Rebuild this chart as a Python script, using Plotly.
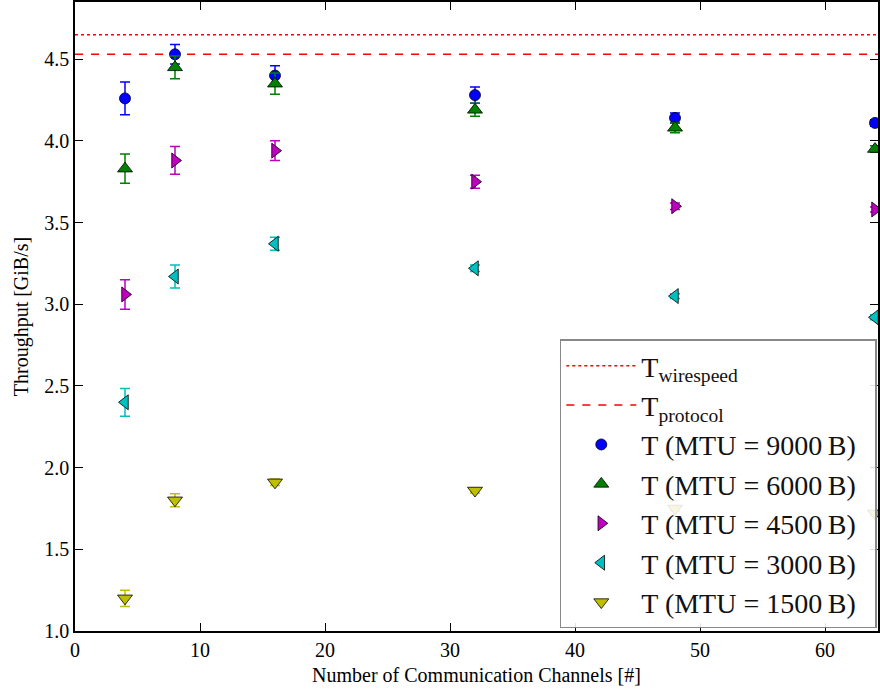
import plotly.graph_objects as go

# Measured throughput vs. number of communication channels, per MTU size
channels = [4, 8, 16, 32, 48, 64]

mtu_labels = ["9000", "6000", "4500", "3000", "1500"]
tp_9000 = [4.26, 4.53, 4.40, 4.28, 4.14, 4.11]
err_9000 = [0.10, 0.06, 0.06, 0.05, 0.03, 0.02]
tp_6000 = [3.83, 4.45, 4.35, 4.19, 4.08, 3.95]
err_6000 = [0.09, 0.07, 0.065, 0.04, 0.03, 0.02]
tp_4500 = [3.06, 3.88, 3.94, 3.75, 3.60, 3.58]
err_4500 = [0.09, 0.085, 0.06, 0.04, 0.02, 0.015]
tp_3000 = [2.40, 3.17, 3.37, 3.22, 3.05, 2.92]
err_3000 = [0.085, 0.07, 0.04, 0.02, 0.015, 0.015]
tp_1500 = [1.20, 1.80, 1.91, 1.86, 1.75, 1.72]
err_1500 = [0.05, 0.04, 0.02, 0.015, 0.015, 0.015]

# Theoretical limits
t_wirespeed = 4.65
t_protocol = 4.53

x_range = [0, 64.24]
y_range = [1.0, 4.85]

series = [
    (tp_9000, err_9000, "#0000ff", "circle", 11),
    (tp_6000, err_6000, "#008000", "triangle-up", 13),
    (tp_4500, err_4500, "#bf00bf", "triangle-right", 13),
    (tp_3000, err_3000, "#00bfbf", "triangle-left", 13),
    (tp_1500, err_1500, "#bfbf00", "triangle-down", 13),
]

serif = "Liberation Serif, Times New Roman, serif"
pad = "\u00a0\u00a0"  # right padding inside the legend box

fig = go.Figure()

fig.add_trace(go.Scatter(
    x=x_range, y=[t_wirespeed, t_wirespeed], mode="lines",
    line=dict(color="#ff0000", width=1.5, dash="dot"),
    name="T<sub>wirespeed</sub>", hoverinfo="skip",
))
fig.add_trace(go.Scatter(
    x=x_range, y=[t_protocol, t_protocol], mode="lines",
    line=dict(color="#ff0000", width=1.5, dash="8px,8px"),
    name="T<sub>protocol</sub>", hoverinfo="skip",
))

for label, (vals, errs, color, symbol, size) in zip(mtu_labels, series):
    fig.add_trace(go.Scatter(
        x=channels, y=vals, mode="markers",
        name=f"T (MTU = {label}\u2009B){pad}",
        marker=dict(symbol=symbol, size=size, color=color,
                    line=dict(color="black", width=0.8)),
        error_y=dict(type="data", array=errs, visible=True,
                     color=color, thickness=1.5, width=5),
        cliponaxis=True,
    ))

fig.update_layout(
    width=880, height=695,
    margin=dict(l=75, r=0, t=2, b=64),
    paper_bgcolor="white", plot_bgcolor="white",
    font=dict(family=serif, size=20, color="black"),
    showlegend=True,
    legend=dict(
        x=0.9985, xanchor="right", y=0.004, yanchor="bottom",
        bgcolor="rgba(255,255,255,0.88)", bordercolor="#888888", borderwidth=1.5,
        font=dict(family=serif, size=28, color="#111111"),
        itemwidth=70, tracegroupgap=0,
    ),
)

fig.update_xaxes(
    range=x_range, dtick=10, tick0=0,
    showgrid=False, zeroline=False,
    showline=True, linecolor="black", linewidth=1.5, mirror="ticks",
    ticks="inside", ticklen=8, tickwidth=1, tickcolor="black",
    tickfont=dict(size=20),
    title=dict(text="Number of Communication Channels [#]", font=dict(size=20), standoff=8),
)
fig.update_yaxes(
    range=y_range, dtick=0.5, tick0=1.0, tickformat=".1f",
    showgrid=False, zeroline=False,
    showline=True, linecolor="black", linewidth=1.5, mirror="ticks",
    ticks="inside", ticklen=8, tickwidth=1, tickcolor="black",
    tickfont=dict(size=20),
    title=dict(text="Throughput [GiB/s]", font=dict(size=20), standoff=10),
)

fig.write_html("out.html")
